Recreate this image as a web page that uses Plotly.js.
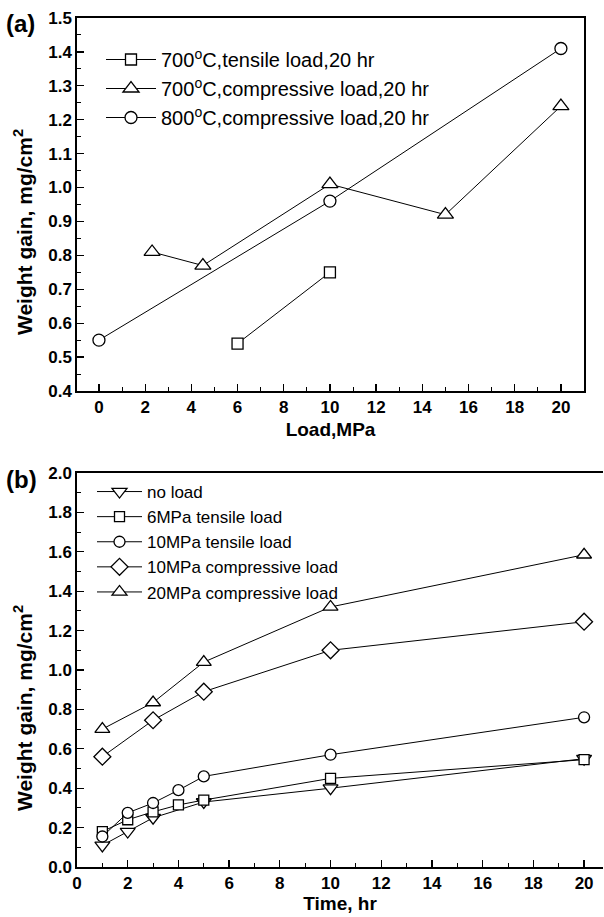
<!DOCTYPE html>
<html>
<head>
<meta charset="utf-8">
<script src="https://cdn.plot.ly/plotly-3.0.1.min.js"></script>
<style>html,body{margin:0;padding:0;background:#fff;}#chart{width:604px;height:917px;}</style>
</head>
<body>
<div id="chart"></div>
<script>
// ---- Panel (a): weight gain vs load ----
const loadTensile700 = [6, 10];
const wgTensile700 = [0.54, 0.75];
const loadComp700 = [2.3, 4.5, 10, 15, 20];
const wgComp700 = [0.81, 0.77, 1.01, 0.92, 1.24];
const loadComp800 = [0, 10, 20];
const wgComp800 = [0.55, 0.96, 1.41];
const namesA = ["700<sup>o</sup>C,tensile load,20 hr", "700<sup>o</sup>C,compressive load,20 hr", "800<sup>o</sup>C,compressive load,20 hr"];

// ---- Panel (b): weight gain vs time ----
const timeNoLoad = [1, 2, 3, 5, 10, 20];
const wgNoLoad = [0.11, 0.18, 0.25, 0.33, 0.40, 0.55];
const timeAll = [1, 2, 3, 4, 5, 10, 20];
const wgTens6 = [0.18, 0.24, 0.28, 0.315, 0.34, 0.45, 0.545];
const wgTens10 = [0.155, 0.275, 0.325, 0.39, 0.46, 0.57, 0.76];
const timeComp = [1, 3, 5, 10, 20];
const wgComp10 = [0.56, 0.745, 0.89, 1.10, 1.245];
const wgComp20 = [0.70, 0.835, 1.04, 1.32, 1.585];
const namesB = ["no load", "6MPa tensile load", "10MPa tensile load", "10MPa compressive load", "20MPa compressive load"];

const FONT = "Liberation Sans, Arial, Helvetica, sans-serif";
const lineStyle = {color: "#000", width: 1};
function mk(sym, size) { return {symbol: sym, size: size, color: "#fff", line: {color: "#000", width: 1.3}}; }

const traces = [
  {x: loadTensile700, y: wgTensile700, name: namesA[0], mode: "lines+markers", line: lineStyle, marker: mk("square", 11), xaxis: "x", yaxis: "y", legend: "legend", legendgroup: "a1"},
  {x: loadComp700, y: wgComp700, name: namesA[1], mode: "lines+markers", line: lineStyle, marker: mk("triangle-up", 14), xaxis: "x", yaxis: "y", legend: "legend", legendgroup: "a2"},
  {x: loadComp800, y: wgComp800, name: namesA[2], mode: "lines+markers", line: lineStyle, marker: mk("circle", 12), xaxis: "x", yaxis: "y", legend: "legend", legendgroup: "a3"},
  {x: timeNoLoad, y: wgNoLoad, name: namesB[0], mode: "lines+markers", line: lineStyle, marker: mk("triangle-down", 13), xaxis: "x2", yaxis: "y2", legend: "legend2", legendgroup: "b1"},
  {x: timeAll, y: wgTens6, name: namesB[1], mode: "lines+markers", line: lineStyle, marker: mk("square", 10), xaxis: "x2", yaxis: "y2", legend: "legend2", legendgroup: "b2"},
  {x: timeAll, y: wgTens10, name: namesB[2], mode: "lines+markers", line: lineStyle, marker: mk("circle", 11), xaxis: "x2", yaxis: "y2", legend: "legend2", legendgroup: "b3"},
  {x: timeComp, y: wgComp10, name: namesB[3], mode: "lines+markers", line: lineStyle, marker: mk("diamond", 13), xaxis: "x2", yaxis: "y2", legend: "legend2", legendgroup: "b4"},
  {x: timeComp, y: wgComp20, name: namesB[4], mode: "lines+markers", line: lineStyle, marker: mk("triangle-up", 13), xaxis: "x2", yaxis: "y2", legend: "legend2", legendgroup: "b5"}
];

const tickFont = {family: FONT, size: 17, color: "#000", weight: 700};
const titleFont = {family: FONT, size: 19, color: "#000", weight: 700};
function ax(extra) {
  return Object.assign({
    showgrid: false, zeroline: false, showline: true, linecolor: "#000", linewidth: 1.6,
    ticks: "inside", ticklen: 7, tickwidth: 1.3, tickcolor: "#000",
    tickfont: tickFont, fixedrange: true
  }, extra);
}

const layout = {
  width: 604, height: 917,
  margin: {l: 0, r: 0, t: 0, b: 0},
  paper_bgcolor: "#fff", plot_bgcolor: "#fff",
  font: {family: FONT, color: "#000"},
  xaxis: ax({domain: [0.1275, 0.9669], range: [-0.95, 21], dtick: 2, tick0: 0, mirror: true, anchor: "y",
    minor: {dtick: 1, tick0: 0, ticks: "inside", ticklen: 4, tickwidth: 1, tickcolor: "#000"},
    title: {text: "Load,MPa", font: titleFont, standoff: 6}}),
  yaxis: ax({domain: [0.5736, 0.9804], range: [0.4, 1.5], dtick: 0.1, tick0: 0.4, tickformat: ".1f", mirror: true, anchor: "x",
    minor: {dtick: 0.05, tick0: 0.4, ticks: "inside", ticklen: 4, tickwidth: 1, tickcolor: "#000"}}),
  xaxis2: ax({domain: [0.1275, 0.9985], range: [0, 20.75], dtick: 2, tick0: 0, mirror: true, anchor: "y2",
    minor: {dtick: 1, tick0: 0, ticks: "inside", ticklen: 4, tickwidth: 1, tickcolor: "#000"},
    title: {text: "Time, hr", font: titleFont, standoff: 4}}),
  yaxis2: ax({domain: [0.0545, 0.4842], range: [0, 2.0], dtick: 0.2, tick0: 0, tickformat: ".1f", mirror: false, anchor: "x2",
    minor: {dtick: 0.1, tick0: 0, ticks: "inside", ticklen: 4, tickwidth: 1, tickcolor: "#000"}}),
  legend: {x: 101/604, y: 1 - 40/917, xanchor: "left", yanchor: "top", bgcolor: "rgba(0,0,0,0)",
    font: {family: FONT, size: 20, color: "#000"}, itemwidth: 50, tracegroupgap: 1, traceorder: "normal"},
  legend2: {x: 92/604, y: 1 - 474/917, xanchor: "left", yanchor: "top", bgcolor: "rgba(0,0,0,0)",
    font: {family: FONT, size: 17, color: "#000"}, itemwidth: 45, tracegroupgap: 0, traceorder: "normal"},
  showlegend: true,
  annotations: [
    {text: "(a)", x: 4/604, y: 1 - 23/917, xref: "paper", yref: "paper", xanchor: "left", yanchor: "middle", showarrow: false,
      font: {family: FONT, size: 24, color: "#000", weight: 700}},
    {text: "(b)", x: 4/604, y: 1 - 479/917, xref: "paper", yref: "paper", xanchor: "left", yanchor: "middle", showarrow: false,
      font: {family: FONT, size: 24, color: "#000", weight: 700}},
    {text: "Weight gain, mg/cm<sup>2</sup>", x: 23/604, y: 1 - 232/917, xref: "paper", yref: "paper", xanchor: "center", yanchor: "middle",
      textangle: -90, showarrow: false, font: {family: FONT, size: 21, color: "#000", weight: 700}},
    {text: "Weight gain, mg/cm<sup>2</sup>", x: 23/604, y: 1 - 708/917, xref: "paper", yref: "paper", xanchor: "center", yanchor: "middle",
      textangle: -90, showarrow: false, font: {family: FONT, size: 21, color: "#000", weight: 700}}
  ]
};

Plotly.newPlot("chart", traces, layout, {displayModeBar: false, staticPlot: true});
</script>
</body>
</html>
